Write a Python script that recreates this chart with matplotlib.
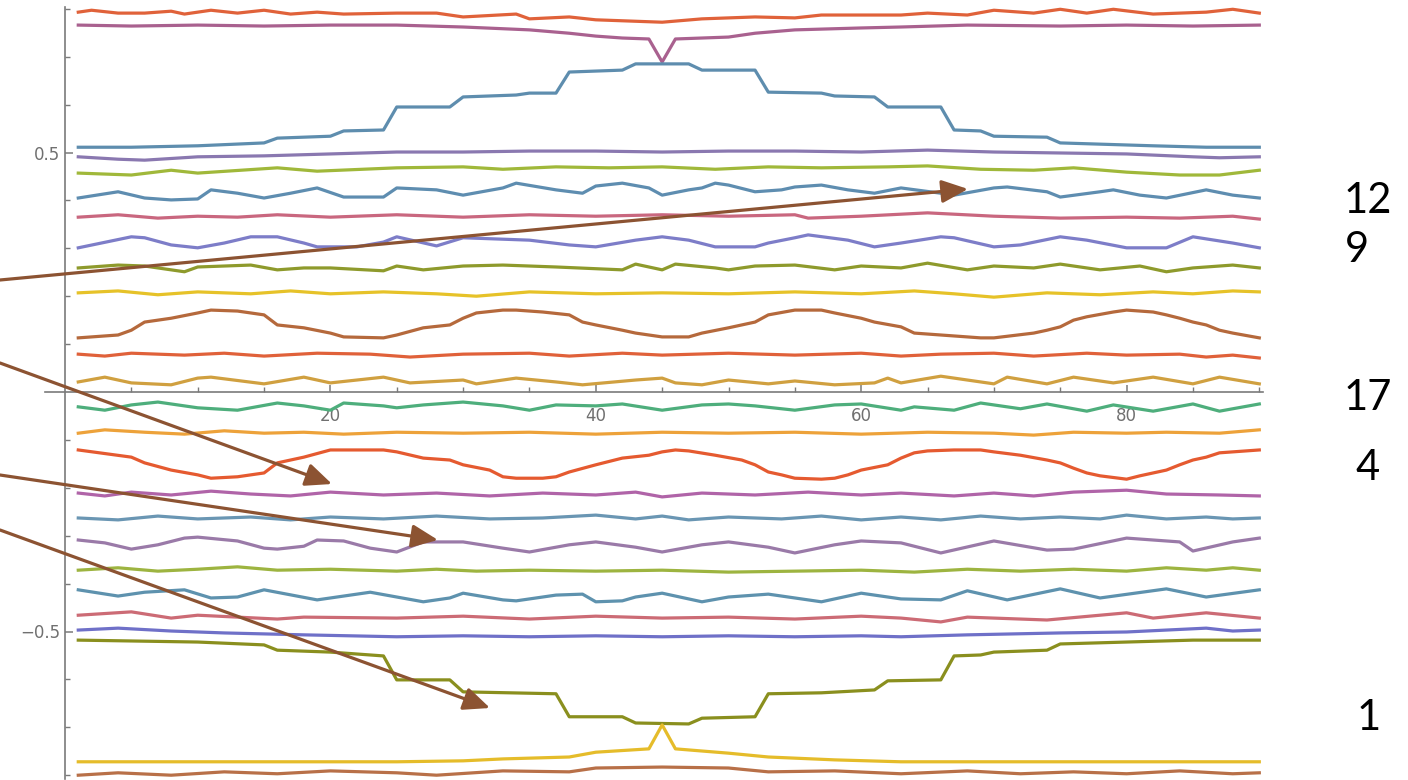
import matplotlib
matplotlib.use("Agg")
import matplotlib.pyplot as plt
from matplotlib.patches import FancyArrowPatch

# ---------------- data ----------------
x01 = [1, 2, 4, 6, 8, 9, 11, 13, 15, 17, 19, 21, 25, 28, 30, 34, 35, 38, 40, 45, 48, 52, 55, 57, 63, 65, 68, 70, 73, 75, 77, 79, 82, 86, 88, 90]
y01 = [.793, .797, .791, .791, .795, .789, .797, .791, .797, .789, .793, .789, .791, .791, .783, .789, .779, .783, .777, .772, .779, .783, .781, .787, .787, .791, .787, .797, .791, .799, .791, .799, .789, .793, .799, .791]

x02 = [1, 5, 10, 15, 20, 25, 30, 35, 38, 40, 42, 44, 45, 46, 48, 50, 52, 55, 60, 63, 68, 75, 80, 85, 90]
y02 = [.766, .764, .766, .764, .766, .766, .762, .756, .749, .743, .739, .737, .689, .737, .739, .741, .749, .756, .760, .762, .766, .764, .766, .764, .766]

x03 = [1, 5, 10, 15, 16, 20, 21, 24, 25, 29, 30, 34, 35, 37, 38, 42, 43, 47, 48, 52, 53, 57, 58, 61, 62, 66, 67, 69, 70, 74, 75, 82, 86, 90]
y03 = [.511, .511, .514, .520, .530, .534, .545, .547, .595, .595, .616, .620, .624, .624, .668, .672, .685, .685, .672, .672, .626, .624, .618, .616, .595, .595, .547, .545, .534, .532, .520, .514, .511, .511]

x04 = [1, 4, 6, 10, 15, 20, 25, 30, 35, 40, 45, 50, 55, 60, 65, 70, 75, 80, 85, 87, 90]
y04 = [.491, .486, .484, .491, .493, .497, .501, .501, .503, .503, .501, .503, .503, .501, .505, .501, .499, .497, .491, .489, .491]

x05 = [1, 5, 8, 10, 16, 19, 25, 30, 33, 37, 41, 45, 49, 53, 57, 62, 65, 69, 73, 76, 80, 84, 87, 90]
y05 = [.457, .453, .463, .457, .468, .461, .468, .470, .465, .470, .468, .470, .465, .470, .468, .470, .472, .465, .463, .468, .459, .453, .453, .463]

x06 = [1, 4, 6, 8, 10, 11, 13, 15, 17, 19, 21, 24, 25, 28, 30, 33, 34, 37, 39, 40, 42, 44, 45, 47, 48, 49, 50, 52, 54, 55, 57, 59, 61, 63, 66, 67, 70, 71, 74, 75, 78, 79, 81, 83, 86, 88, 90]
y06 = [.405, .418, .405, .401, .403, .422, .415, .405, .415, .426, .407, .407, .426, .422, .411, .426, .436, .422, .415, .430, .436, .426, .411, .422, .426, .436, .432, .418, .422, .428, .432, .422, .415, .426, .415, .411, .426, .428, .418, .407, .418, .422, .411, .405, .422, .411, .405]

x07 = [1, 4, 7, 10, 13, 16, 20, 25, 30, 35, 40, 45, 50, 55, 56, 60, 65, 70, 75, 80, 84, 88, 90]
y07 = [.365, .370, .363, .367, .365, .370, .365, .370, .365, .370, .367, .370, .367, .370, .363, .367, .374, .367, .363, .365, .363, .367, .361]

x08 = [1, 5, 6, 8, 10, 12, 14, 16, 18, 19, 22, 24, 25, 28, 30, 35, 38, 40, 43, 45, 47, 49, 52, 53, 55, 56, 59, 61, 63, 66, 67, 70, 72, 75, 77, 80, 83, 85, 88, 90]
y08 = [.301, .324, .322, .307, .301, .311, .324, .324, .311, .303, .303, .313, .324, .305, .322, .317, .307, .303, .317, .324, .317, .303, .303, .311, .322, .328, .317, .303, .311, .324, .322, .303, .307, .324, .317, .301, .301, .324, .311, .301]

x09 = [1, 4, 6, 9, 10, 14, 16, 18, 20, 24, 25, 27, 30, 33, 37, 42, 43, 45, 46, 49, 50, 52, 55, 58, 60, 63, 65, 68, 70, 73, 75, 78, 81, 83, 85, 88, 90]
y09 = [.259, .265, .263, .251, .261, .265, .255, .259, .259, .253, .263, .255, .263, .265, .261, .255, .267, .255, .267, .259, .255, .263, .265, .255, .263, .259, .269, .255, .263, .259, .267, .255, .263, .251, .259, .265, .259]

x10 = [1, 4, 7, 10, 14, 17, 20, 24, 28, 31, 35, 40, 45, 50, 55, 60, 64, 67, 70, 74, 78, 82, 85, 88, 90]
y10 = [.207, .211, .203, .209, .205, .211, .205, .209, .205, .200, .209, .205, .207, .205, .209, .205, .211, .205, .198, .207, .203, .209, .205, .211, .209]

x11 = [1, 4, 5, 6, 8, 10, 11, 13, 15, 16, 18, 20, 21, 24, 25, 27, 29, 30, 31, 33, 34, 36, 38, 39, 40, 42, 43, 45, 47, 48, 50, 52, 53, 55, 57, 58, 60, 61, 63, 64, 67, 69, 70, 73, 74, 75, 76, 77, 79, 80, 82, 83, 84, 85, 86, 87, 88, 90]
y11 = [.113, .119, .129, .146, .154, .165, .171, .169, .161, .140, .134, .123, .115, .113, .119, .134, .140, .154, .165, .171, .171, .167, .161, .146, .140, .129, .123, .115, .115, .123, .134, .146, .161, .171, .171, .165, .154, .146, .136, .123, .117, .113, .113, .123, .129, .136, .150, .157, .167, .171, .167, .161, .154, .146, .140, .129, .123, .113]

x12 = [1, 3, 5, 9, 12, 15, 19, 23, 26, 30, 35, 38, 42, 45, 50, 55, 60, 63, 66, 70, 73, 77, 80, 84, 86, 88, 90]
y12 = [.079, .075, .081, .077, .081, .075, .081, .079, .073, .079, .081, .075, .081, .077, .081, .077, .081, .075, .079, .081, .075, .081, .077, .079, .073, .077, .071]

x13 = [1, 3, 5, 8, 10, 11, 15, 18, 20, 22, 24, 26, 30, 31, 33, 34, 37, 39, 43, 45, 46, 48, 50, 53, 55, 58, 61, 62, 63, 66, 70, 71, 74, 76, 79, 82, 85, 87, 90]
y13 = [.021, .031, .019, .015, .029, .031, .017, .031, .019, .025, .031, .019, .025, .017, .025, .029, .021, .015, .025, .029, .019, .015, .025, .017, .023, .015, .019, .029, .019, .033, .017, .031, .017, .031, .019, .031, .017, .031, .017]

x14 = [1, 3, 5, 7, 10, 13, 16, 18, 20, 21, 24, 25, 27, 30, 33, 35, 37, 40, 42, 45, 48, 50, 52, 55, 58, 60, 63, 64, 67, 69, 72, 74, 77, 79, 82, 85, 87, 90]
y14 = [-.031, -.038, -.027, -.021, -.033, -.038, -.023, -.029, -.038, -.023, -.029, -.033, -.027, -.021, -.029, -.038, -.027, -.029, -.025, -.038, -.027, -.025, -.029, -.038, -.027, -.025, -.038, -.031, -.038, -.023, -.035, -.025, -.040, -.027, -.040, -.025, -.040, -.025]

x15 = [1, 3, 6, 9, 12, 15, 18, 21, 25, 30, 35, 40, 45, 50, 55, 60, 65, 70, 73, 76, 80, 83, 87, 90]
y15 = [-.086, -.079, -.084, -.088, -.081, -.086, -.084, -.088, -.084, -.086, -.084, -.088, -.084, -.086, -.084, -.088, -.084, -.086, -.090, -.084, -.086, -.084, -.086, -.079]

x16 = [1, 5, 6, 8, 10, 11, 13, 15, 16, 18, 20, 24, 25, 27, 29, 30, 32, 33, 34, 36, 37, 38, 40, 42, 44, 45, 46, 47, 49, 51, 52, 53, 54, 55, 57, 58, 59, 60, 62, 63, 64, 65, 67, 69, 70, 72, 74, 75, 76, 77, 78, 80, 81, 83, 84, 85, 86, 87, 90]
y16 = [-.121, -.136, -.148, -.163, -.173, -.180, -.177, -.169, -.148, -.136, -.121, -.121, -.125, -.138, -.142, -.152, -.163, -.177, -.180, -.180, -.177, -.167, -.152, -.138, -.132, -.125, -.121, -.123, -.132, -.142, -.152, -.167, -.173, -.180, -.182, -.180, -.173, -.163, -.152, -.138, -.127, -.123, -.121, -.121, -.125, -.132, -.142, -.148, -.159, -.169, -.175, -.182, -.175, -.163, -.152, -.142, -.136, -.127, -.121]

x17 = [1, 3, 5, 8, 11, 14, 17, 20, 24, 28, 32, 36, 40, 43, 45, 48, 52, 56, 60, 63, 67, 70, 73, 76, 80, 83, 87, 90]
y17 = [-.211, -.217, -.209, -.215, -.207, -.213, -.217, -.209, -.215, -.211, -.217, -.211, -.215, -.209, -.219, -.211, -.215, -.209, -.215, -.211, -.217, -.211, -.217, -.209, -.205, -.213, -.215, -.217]

x18 = [1, 4, 7, 10, 14, 17, 20, 24, 28, 32, 36, 40, 43, 45, 47, 50, 54, 57, 60, 63, 66, 69, 72, 75, 78, 80, 83, 86, 88, 90]
y18 = [-.263, -.267, -.259, -.265, -.261, -.267, -.261, -.265, -.259, -.265, -.263, -.257, -.265, -.259, -.267, -.261, -.265, -.259, -.267, -.261, -.267, -.259, -.265, -.261, -.265, -.257, -.265, -.261, -.265, -.263]

x19 = [1, 3, 5, 7, 9, 10, 13, 15, 16, 18, 19, 21, 23, 25, 27, 30, 33, 35, 38, 40, 43, 45, 48, 50, 53, 55, 58, 60, 63, 66, 70, 74, 76, 80, 84, 85, 88, 90]
y19 = [-.309, -.315, -.328, -.319, -.305, -.303, -.311, -.326, -.328, -.322, -.309, -.311, -.326, -.334, -.313, -.313, -.326, -.334, -.319, -.313, -.324, -.334, -.319, -.313, -.324, -.336, -.319, -.311, -.315, -.336, -.311, -.330, -.328, -.305, -.313, -.332, -.313, -.305]

x20 = [1, 4, 7, 10, 13, 16, 20, 25, 28, 31, 35, 40, 45, 50, 55, 60, 64, 68, 72, 76, 80, 83, 86, 88, 90]
y20 = [-.372, -.367, -.374, -.370, -.365, -.372, -.370, -.374, -.370, -.374, -.372, -.374, -.372, -.376, -.374, -.372, -.376, -.370, -.374, -.370, -.374, -.367, -.372, -.367, -.372]

x21 = [1, 4, 6, 9, 11, 13, 15, 19, 23, 25, 27, 29, 30, 33, 34, 37, 39, 40, 42, 43, 45, 48, 50, 53, 57, 60, 63, 66, 68, 71, 75, 78, 83, 86, 90]
y21 = [-.413, -.426, -.418, -.413, -.430, -.428, -.413, -.434, -.418, -.428, -.438, -.430, -.420, -.434, -.436, -.424, -.422, -.438, -.436, -.428, -.420, -.438, -.428, -.422, -.438, -.420, -.432, -.434, -.415, -.434, -.411, -.430, -.411, -.428, -.413]

x22 = [1, 5, 8, 10, 16, 18, 25, 30, 35, 40, 45, 50, 55, 60, 63, 66, 68, 74, 80, 82, 86, 90]
y22 = [-.466, -.459, -.472, -.466, -.474, -.470, -.472, -.468, -.474, -.468, -.472, -.470, -.474, -.468, -.472, -.480, -.470, -.476, -.461, -.472, -.461, -.472]

x23 = [1, 4, 8, 12, 18, 25, 30, 35, 40, 45, 50, 55, 60, 63, 68, 75, 80, 86, 88, 90]
y23 = [-.497, -.493, -.499, -.503, -.507, -.511, -.509, -.511, -.509, -.511, -.509, -.511, -.509, -.511, -.507, -.503, -.501, -.493, -.499, -.497]

x24 = [1, 10, 15, 16, 20, 24, 25, 29, 30, 37, 38, 42, 43, 47, 48, 52, 53, 57, 61, 62, 66, 67, 69, 70, 74, 75, 80, 85, 90]
y24 = [-.518, -.522, -.528, -.539, -.543, -.551, -.601, -.601, -.626, -.630, -.678, -.678, -.691, -.693, -.681, -.678, -.630, -.628, -.622, -.603, -.601, -.551, -.549, -.543, -.539, -.526, -.522, -.518, -.518]

x25 = [1, 10, 20, 25, 30, 33, 38, 40, 44, 45, 46, 50, 53, 58, 63, 70, 80, 90]
y25 = [-.772, -.772, -.772, -.772, -.770, -.766, -.762, -.752, -.745, -.695, -.745, -.754, -.762, -.768, -.772, -.772, -.772, -.772]

x26 = [1, 4, 8, 12, 16, 20, 25, 28, 33, 38, 40, 45, 50, 53, 58, 63, 68, 72, 76, 80, 84, 88, 90]
y26 = [-.800, -.795, -.800, -.793, -.797, -.791, -.795, -.800, -.791, -.793, -.785, -.783, -.785, -.793, -.791, -.797, -.791, -.797, -.793, -.797, -.791, -.797, -.795]

series_x = [x01, x02, x03, x04, x05, x06, x07, x08, x09, x10, x11, x12, x13,
            x14, x15, x16, x17, x18, x19, x20, x21, x22, x23, x24, x25, x26]
series_y = [y01, y02, y03, y04, y05, y06, y07, y08, y09, y10, y11, y12, y13,
            y14, y15, y16, y17, y18, y19, y20, y21, y22, y23, y24, y25, y26]

y_major_ticks = [-0.5, 0.5]
y_major_labels = ["\u22120.5", "0.5"]
x_major_ticks = [20, 40, 60, 80]
x_major_labels = ["20", "40", "60", "80"]

side_labels = ["12", "9", "17", "4", "1"]

# ---------------- styles ----------------
colors = ["#E0623A", "#A9618F", "#5E8DAE", "#8A78B0", "#A0B83A", "#5E8DB0",
          "#C9677F", "#7D7DC8", "#8E9A2C", "#E6C229", "#B5693C", "#E0613A",
          "#D0A040", "#4EAE7C", "#EDA23A", "#E55A30", "#B064A8", "#6A96B3",
          "#9A7AA8", "#9DB440", "#5E92AE", "#CC6B75", "#6F70C8", "#8A8F1E",
          "#E5BC2A", "#B87048"]

W, H = 1408, 780
fig = plt.figure(figsize=(W / 100, H / 100), dpi=100)
fig.patch.set_facecolor("white")

# pixel geometry of the plot area in the reference
X0_PX, X_SCALE = 65.0, 13.27     # px of x=0, px per unit
Y0_PX, Y_SCALE = 392.0, 479.0    # px of y=0, px per unit
xlim = (-1.51, 90.3)
ylim = (-0.808, 0.803)
left_px = X0_PX + X_SCALE * xlim[0]
right_px = X0_PX + X_SCALE * xlim[1]
top_px = Y0_PX - Y_SCALE * ylim[1]
bot_px = Y0_PX - Y_SCALE * ylim[0]
ax = fig.add_axes([left_px / W, 1 - bot_px / H, (right_px - left_px) / W, (bot_px - top_px) / H])
ax.set_xlim(*xlim)
ax.set_ylim(*ylim)
ax.patch.set_alpha(0)

for xs, ys, c in zip(series_x, series_y, colors):
    ax.plot(xs, ys, color=c, lw=2.3, solid_joinstyle="round", clip_on=False, zorder=3)

axis_col = "#7a7a7a"
for s in ["top", "right"]:
    ax.spines[s].set_visible(False)
ax.spines["left"].set_position(("data", 0))
ax.spines["bottom"].set_position(("data", 0))
for s in ["left", "bottom"]:
    ax.spines[s].set_color(axis_col)
    ax.spines[s].set_linewidth(1.2)

ax.set_yticks(y_major_ticks)
ax.set_yticklabels(y_major_labels)
ax.set_yticks([v / 10 for v in range(-8, 9) if v not in (0, 5, -5)], minor=True)
ax.set_xticks(x_major_ticks)
ax.set_xticklabels(x_major_labels)
ax.set_xticks([v for v in range(5, 91, 5) if v % 20 != 0], minor=True)

ax.tick_params(axis="both", which="both", direction="in", colors=axis_col, labelcolor="#707070")
ax.tick_params(axis="y", which="major", length=6, width=1.1, pad=3.5, labelsize=12)
ax.tick_params(axis="y", which="minor", length=3.5, width=1.0)
ax.tick_params(axis="x", which="major", length=5, width=1.1, pad=10.5, labelsize=12)
ax.tick_params(axis="x", which="minor", length=3.5, width=1.0)

# ---------------- annotations (figure pixel coordinates) ----------------
arrow_color = "#8C5332"
arrows_px = [((0, 280), (968, 189)),
             ((0, 363), (332, 484)),
             ((0, 475), (438, 540)),
             ((0, 530), (490, 708))]
for (sx, sy), (ex, ey) in arrows_px:
    arr = FancyArrowPatch((sx / W, 1 - sy / H), (ex / W, 1 - ey / H),
                          transform=fig.transFigure,
                          arrowstyle="-|>,head_length=0.8,head_width=0.35",
                          mutation_scale=20, color=arrow_color, lw=2.3,
                          shrinkA=0, shrinkB=0, zorder=10)
    fig.add_artist(arr)

side_pos_px = [(1368, 213), (1357, 262), (1368, 410), (1368, 480), (1369, 730)]
for lab, (px, py) in zip(side_labels, side_pos_px):
    fig.text(px / W, 1 - py / H, lab, ha="center", va="baseline",
             fontsize=30, family=["Lato", "DejaVu Sans"], color="black")

fig.savefig("out.png", dpi=100, facecolor="white")
